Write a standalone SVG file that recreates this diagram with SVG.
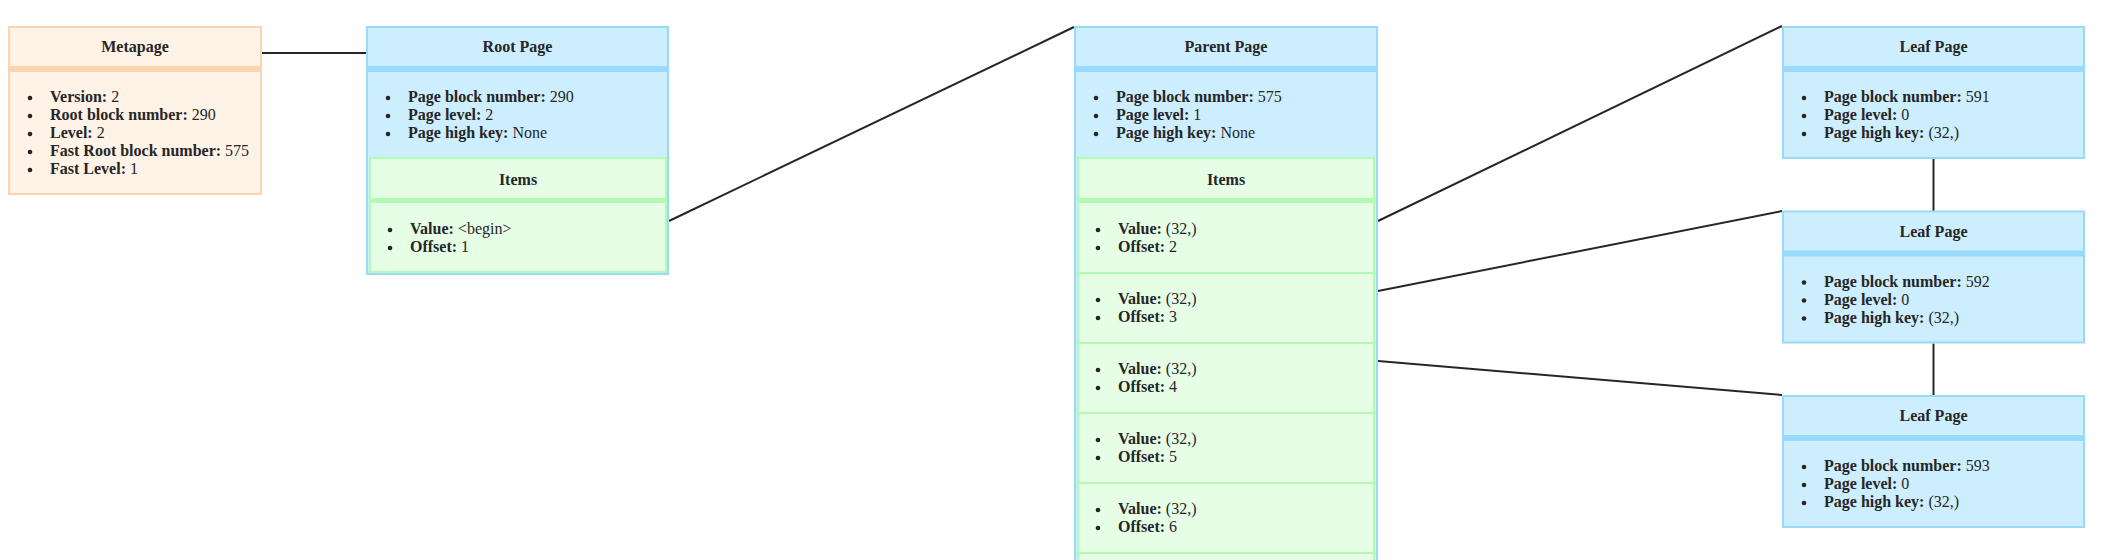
<svg xmlns="http://www.w3.org/2000/svg" width="2102" height="560" viewBox="0 0 2102 560">
<style>
.bg{fill:#ffffff}
.meta{fill:#fff2e6;stroke:#fdd4b0;stroke-width:2}
.metaband{fill:#fdd4b0}
.blue{fill:#cdeefe;stroke:#99dafc;stroke-width:2}
.blueband{fill:#99dafc}
.green{fill:#e6fde6;stroke:#b2fbb2;stroke-width:2}
.greenband{fill:#b2fbb2}
.sep{stroke:#b2fbb2;stroke-width:2}
text{font-family:"Liberation Serif","Times New Roman",serif;font-size:16px;fill:#262626}
.t{font-weight:bold;text-anchor:middle}
.b{font-weight:bold}
.dot{fill:#262626}
.conn line{stroke:#262626;stroke-width:2;fill:none}
</style>
<rect class="bg" x="0" y="0" width="2102" height="560"/>

<g id="connectors" class="conn">
<line x1="262" y1="53" x2="366" y2="53"/>
<line x1="669" y1="221" x2="1074" y2="27"/>
<line x1="1378" y1="221" x2="1782" y2="26"/>
<line x1="1378" y1="291" x2="1782" y2="211"/>
<line x1="1378" y1="361" x2="1782" y2="395"/>
<line x1="1933.5" y1="159" x2="1933.5" y2="211"/>
<line x1="1933.5" y1="343.5" x2="1933.5" y2="395"/>
</g>

<g id="metapage">
<rect class="meta" x="9" y="27" width="252" height="167"/>
<rect class="metaband" x="9" y="66" width="252" height="6"/>
<text class="t" x="135" y="52">Metapage</text>
<circle class="dot" cx="30" cy="98" r="2.3"/>
<circle class="dot" cx="30" cy="116" r="2.3"/>
<circle class="dot" cx="30" cy="134" r="2.3"/>
<circle class="dot" cx="30" cy="152" r="2.3"/>
<circle class="dot" cx="30" cy="170" r="2.3"/>
<text x="50" y="102"><tspan class="b">Version:</tspan> 2</text>
<text x="50" y="120"><tspan class="b">Root block number:</tspan> 290</text>
<text x="50" y="138"><tspan class="b">Level:</tspan> 2</text>
<text x="50" y="156"><tspan class="b">Fast Root block number:</tspan> 575</text>
<text x="50" y="174"><tspan class="b">Fast Level:</tspan> 1</text>
</g>

<g id="root-page">
<rect class="blue" x="367" y="27" width="301" height="247"/>
<rect class="blueband" x="367" y="66" width="301" height="6"/>
<text class="t" x="517.5" y="52">Root Page</text>
<circle class="dot" cx="388" cy="98" r="2.3"/>
<circle class="dot" cx="388" cy="116" r="2.3"/>
<circle class="dot" cx="388" cy="134" r="2.3"/>
<text x="408" y="102"><tspan class="b">Page block number:</tspan> 290</text>
<text x="408" y="120"><tspan class="b">Page level:</tspan> 2</text>
<text x="408" y="138"><tspan class="b">Page high key:</tspan> None</text>
<rect class="green" x="370" y="158" width="296" height="114"/>
<rect class="greenband" x="370" y="198" width="296" height="5"/>
<text class="t" x="518" y="185">Items</text>
<circle class="dot" cx="390" cy="230" r="2.3"/>
<circle class="dot" cx="390" cy="248" r="2.3"/>
<text x="410" y="234"><tspan class="b">Value:</tspan> &lt;begin&gt;</text>
<text x="410" y="252"><tspan class="b">Offset:</tspan> 1</text>
</g>

<g id="parent-page">
<rect class="blue" x="1075" y="27" width="302" height="600"/>
<rect class="blueband" x="1075" y="66" width="302" height="6"/>
<text class="t" x="1226" y="52">Parent Page</text>
<circle class="dot" cx="1096" cy="98" r="2.3"/>
<circle class="dot" cx="1096" cy="116" r="2.3"/>
<circle class="dot" cx="1096" cy="134" r="2.3"/>
<text x="1116" y="102"><tspan class="b">Page block number:</tspan> 575</text>
<text x="1116" y="120"><tspan class="b">Page level:</tspan> 1</text>
<text x="1116" y="138"><tspan class="b">Page high key:</tspan> None</text>
<rect class="green" x="1078" y="158" width="296" height="500"/>
<rect class="greenband" x="1078" y="198" width="296" height="5"/>
<text class="t" x="1226" y="185">Items</text>
<line class="sep" x1="1078" y1="273" x2="1374" y2="273"/>
<line class="sep" x1="1078" y1="343" x2="1374" y2="343"/>
<line class="sep" x1="1078" y1="413" x2="1374" y2="413"/>
<line class="sep" x1="1078" y1="483" x2="1374" y2="483"/>
<line class="sep" x1="1078" y1="553" x2="1374" y2="553"/>
<g id="item-2">
<circle class="dot" cx="1098" cy="230" r="2.3"/><circle class="dot" cx="1098" cy="248" r="2.3"/>
<text x="1118" y="234"><tspan class="b">Value:</tspan> (32,)</text>
<text x="1118" y="252"><tspan class="b">Offset:</tspan> 2</text>
</g>
<g id="item-3">
<circle class="dot" cx="1098" cy="300" r="2.3"/><circle class="dot" cx="1098" cy="318" r="2.3"/>
<text x="1118" y="304"><tspan class="b">Value:</tspan> (32,)</text>
<text x="1118" y="322"><tspan class="b">Offset:</tspan> 3</text>
</g>
<g id="item-4">
<circle class="dot" cx="1098" cy="370" r="2.3"/><circle class="dot" cx="1098" cy="388" r="2.3"/>
<text x="1118" y="374"><tspan class="b">Value:</tspan> (32,)</text>
<text x="1118" y="392"><tspan class="b">Offset:</tspan> 4</text>
</g>
<g id="item-5">
<circle class="dot" cx="1098" cy="440" r="2.3"/><circle class="dot" cx="1098" cy="458" r="2.3"/>
<text x="1118" y="444"><tspan class="b">Value:</tspan> (32,)</text>
<text x="1118" y="462"><tspan class="b">Offset:</tspan> 5</text>
</g>
<g id="item-6">
<circle class="dot" cx="1098" cy="510" r="2.3"/><circle class="dot" cx="1098" cy="528" r="2.3"/>
<text x="1118" y="514"><tspan class="b">Value:</tspan> (32,)</text>
<text x="1118" y="532"><tspan class="b">Offset:</tspan> 6</text>
</g>
</g>

<g id="leaf-591">
<rect class="blue" x="1783" y="27" width="301" height="131"/>
<rect class="blueband" x="1783" y="66" width="301" height="6"/>
<text class="t" x="1933.5" y="52">Leaf Page</text>
<circle class="dot" cx="1804" cy="98" r="2.3"/><circle class="dot" cx="1804" cy="116" r="2.3"/><circle class="dot" cx="1804" cy="134" r="2.3"/>
<text x="1824" y="102"><tspan class="b">Page block number:</tspan> 591</text>
<text x="1824" y="120"><tspan class="b">Page level:</tspan> 0</text>
<text x="1824" y="138"><tspan class="b">Page high key:</tspan> (32,)</text>
</g>

<g id="leaf-592" transform="translate(0,184.5)">
<rect class="blue" x="1783" y="27" width="301" height="131"/>
<rect class="blueband" x="1783" y="66" width="301" height="6"/>
<text class="t" x="1933.5" y="52">Leaf Page</text>
<circle class="dot" cx="1804" cy="98" r="2.3"/><circle class="dot" cx="1804" cy="116" r="2.3"/><circle class="dot" cx="1804" cy="134" r="2.3"/>
<text x="1824" y="102"><tspan class="b">Page block number:</tspan> 592</text>
<text x="1824" y="120"><tspan class="b">Page level:</tspan> 0</text>
<text x="1824" y="138"><tspan class="b">Page high key:</tspan> (32,)</text>
</g>

<g id="leaf-593" transform="translate(0,369)">
<rect class="blue" x="1783" y="27" width="301" height="131"/>
<rect class="blueband" x="1783" y="66" width="301" height="6"/>
<text class="t" x="1933.5" y="52">Leaf Page</text>
<circle class="dot" cx="1804" cy="98" r="2.3"/><circle class="dot" cx="1804" cy="116" r="2.3"/><circle class="dot" cx="1804" cy="134" r="2.3"/>
<text x="1824" y="102"><tspan class="b">Page block number:</tspan> 593</text>
<text x="1824" y="120"><tspan class="b">Page level:</tspan> 0</text>
<text x="1824" y="138"><tspan class="b">Page high key:</tspan> (32,)</text>
</g>
</svg>
